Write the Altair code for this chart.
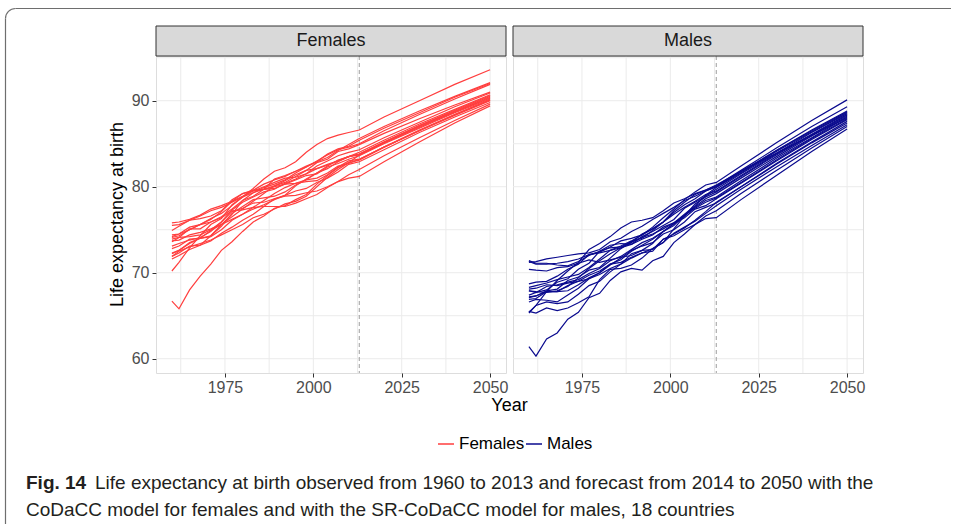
import altair as alt
import pandas as pd

# Life expectancy at birth, observed 1960-2013 and forecast 2014-2050
YEARS = [1960, 1962, 1965, 1968, 1971, 1974, 1977, 1980, 1983, 1986, 1989, 1992,
         1995, 1998, 2001, 2004, 2007, 2010, 2013, 2020, 2030, 2040, 2050]

FEMALES = {
    "Japan":       [70.2, 71.2, 72.9, 74.3, 75.6, 76.3, 77.9, 78.8, 79.8, 80.9, 81.8, 82.2, 82.9, 84.0, 84.9, 85.6, 86.0, 86.3, 86.6, 88.1, 90.0, 91.9, 93.6],
    "Spain":       [72.2, 72.6, 73.4, 74.0, 74.3, 75.6, 76.8, 78.4, 79.3, 79.9, 80.3, 80.8, 81.6, 82.3, 82.9, 83.4, 84.2, 84.9, 85.6, 87.0, 88.8, 90.5, 92.1],
    "France":      [73.6, 74.1, 75.1, 75.1, 75.9, 76.5, 77.4, 78.4, 78.9, 79.7, 80.9, 81.3, 81.8, 82.4, 82.9, 83.8, 84.4, 84.7, 85.4, 86.8, 88.6, 90.4, 92.0],
    "Switzerland": [74.1, 74.3, 75.0, 75.6, 76.2, 77.1, 78.3, 78.9, 79.6, 80.3, 80.8, 81.2, 81.8, 82.3, 83.0, 83.7, 84.3, 84.6, 85.0, 86.5, 88.4, 90.2, 91.9],
    "Italy":       [72.3, 72.6, 73.5, 74.0, 74.9, 75.6, 76.5, 77.4, 78.3, 79.2, 80.1, 80.5, 81.2, 81.9, 82.8, 83.2, 84.1, 84.4, 84.9, 86.2, 87.9, 89.5, 91.0],
    "Australia":   [73.9, 74.1, 74.2, 74.4, 75.0, 75.9, 77.3, 78.2, 78.8, 79.4, 79.7, 80.4, 80.9, 81.5, 82.4, 83.0, 83.6, 84.0, 84.3, 85.7, 87.5, 89.3, 90.9],
    "Finland":     [71.6, 72.0, 72.7, 73.2, 74.3, 75.4, 76.9, 77.7, 78.5, 78.7, 78.9, 79.4, 80.2, 80.8, 81.6, 82.4, 83.1, 83.5, 84.0, 85.4, 87.3, 89.0, 90.7],
    "Austria":     [71.9, 72.3, 73.1, 73.2, 73.7, 74.6, 75.3, 76.1, 76.8, 77.7, 78.6, 79.0, 80.1, 80.9, 81.6, 82.1, 82.9, 83.5, 83.8, 85.2, 87.1, 88.9, 90.6],
    "Canada":      [74.2, 74.5, 75.0, 75.6, 76.3, 76.9, 77.8, 78.8, 79.5, 80.0, 80.5, 81.0, 81.1, 81.5, 82.1, 82.6, 83.0, 83.5, 83.8, 85.2, 87.1, 88.8, 90.5],
    "Portugal":    [66.7, 65.8, 68.0, 69.6, 71.0, 72.6, 73.6, 74.8, 75.9, 76.6, 77.5, 77.8, 78.5, 79.1, 80.3, 81.3, 82.2, 82.8, 83.7, 85.1, 87.0, 88.7, 90.4],
    "Sweden":      [74.9, 75.4, 76.1, 76.6, 77.2, 77.6, 78.2, 78.8, 79.3, 79.7, 80.1, 80.7, 81.4, 81.9, 82.1, 82.5, 83.0, 83.5, 83.7, 85.1, 86.9, 88.7, 90.3],
    "Norway":      [75.8, 75.9, 76.2, 76.7, 77.4, 77.8, 78.3, 79.2, 79.5, 79.7, 79.8, 80.3, 80.8, 81.3, 81.5, 82.3, 82.7, 83.2, 83.6, 85.0, 86.8, 88.6, 90.2],
    "Netherlands": [75.5, 75.6, 76.1, 76.3, 76.6, 77.2, 78.5, 79.2, 79.6, 79.7, 80.0, 80.3, 80.4, 80.6, 80.7, 81.4, 82.3, 83.0, 83.2, 84.6, 86.5, 88.3, 90.0],
    "Belgium":     [72.8, 73.1, 73.9, 74.0, 74.2, 75.0, 76.1, 76.8, 77.6, 78.4, 79.2, 79.9, 80.4, 80.8, 81.0, 81.6, 82.4, 82.7, 83.2, 84.6, 86.6, 88.4, 90.1],
    "Ireland":     [71.9, 72.5, 73.0, 73.4, 73.8, 74.4, 75.0, 75.6, 76.4, 76.8, 77.4, 78.0, 78.3, 78.9, 80.0, 81.1, 82.0, 82.8, 83.1, 84.6, 86.5, 88.4, 90.1],
    "UK":          [73.7, 73.8, 74.4, 74.7, 75.1, 75.6, 76.2, 76.8, 77.4, 77.9, 78.5, 79.0, 79.5, 79.8, 80.5, 81.0, 81.7, 82.6, 82.9, 84.3, 86.3, 88.1, 89.8],
    "Denmark":     [74.4, 74.5, 75.3, 75.6, 75.9, 76.4, 77.2, 77.3, 77.6, 77.7, 77.7, 77.7, 78.1, 78.6, 79.1, 79.9, 80.6, 81.4, 82.0, 83.6, 85.7, 87.7, 89.6],
    "USA":         [73.1, 73.4, 73.8, 74.1, 74.8, 75.9, 77.1, 77.5, 78.1, 78.2, 78.6, 78.9, 79.0, 79.3, 79.5, 80.0, 80.6, 81.0, 81.2, 82.9, 85.2, 87.4, 89.4],
}

MALES = {
    "Netherlands": [71.4, 71.1, 71.1, 70.9, 70.8, 71.3, 72.0, 72.5, 72.9, 73.0, 73.6, 74.1, 74.5, 75.1, 75.8, 76.6, 78.0, 78.8, 79.4, 81.2, 83.7, 86.0, 88.3],
    "Norway":      [71.3, 71.0, 71.0, 71.1, 71.3, 71.6, 72.1, 72.3, 72.6, 72.9, 73.3, 74.2, 74.8, 75.5, 76.2, 77.5, 78.2, 78.9, 79.7, 81.5, 83.9, 86.3, 88.5],
    "Sweden":      [71.2, 71.3, 71.6, 71.8, 72.0, 72.2, 72.3, 72.7, 73.6, 74.0, 74.8, 75.4, 76.2, 76.9, 77.6, 78.4, 78.9, 79.5, 80.0, 81.7, 84.2, 86.5, 88.7],
    "Denmark":     [70.4, 70.3, 70.2, 70.6, 70.7, 71.1, 71.5, 71.2, 71.5, 71.8, 72.0, 72.6, 72.7, 73.9, 74.5, 75.2, 76.1, 77.1, 78.2, 80.0, 82.6, 85.1, 87.4],
    "Switzerland": [68.7, 68.9, 69.0, 69.6, 70.4, 71.0, 72.1, 72.4, 73.0, 73.7, 74.0, 74.4, 75.3, 76.4, 77.4, 78.5, 79.4, 80.2, 80.5, 82.4, 85.1, 87.7, 90.1],
    "Ireland":     [68.1, 68.2, 68.6, 68.5, 68.8, 69.0, 69.3, 69.8, 70.5, 71.0, 71.7, 72.3, 72.8, 73.5, 75.1, 76.6, 77.6, 78.4, 78.8, 80.7, 83.3, 85.7, 88.1],
    "Canada":      [68.3, 68.5, 68.8, 69.2, 69.5, 69.8, 70.6, 71.6, 72.6, 73.1, 73.7, 74.4, 75.1, 75.9, 76.8, 77.6, 78.3, 79.1, 79.5, 81.3, 83.8, 86.1, 88.4],
    "UK":          [67.9, 67.7, 68.4, 68.6, 68.9, 69.2, 69.9, 70.5, 71.4, 71.9, 72.7, 73.5, 74.0, 74.8, 75.7, 76.7, 77.7, 78.6, 79.2, 81.0, 83.5, 85.9, 88.2],
    "Australia":   [67.9, 67.8, 67.7, 67.9, 68.4, 69.4, 70.5, 71.4, 72.2, 72.9, 73.5, 74.5, 75.1, 75.9, 77.2, 78.2, 79.1, 79.6, 80.1, 81.9, 84.5, 87.0, 89.3],
    "Italy":       [67.2, 67.3, 67.9, 68.1, 69.1, 69.5, 70.3, 70.6, 71.7, 72.8, 73.6, 74.0, 74.9, 75.9, 77.0, 77.9, 78.6, 79.5, 80.0, 81.8, 84.2, 86.6, 88.8],
    "Spain":       [67.4, 67.7, 68.0, 68.9, 69.3, 70.4, 71.1, 72.5, 73.2, 73.4, 73.3, 73.9, 74.4, 75.3, 75.8, 76.8, 77.8, 79.0, 79.9, 81.6, 84.1, 86.4, 88.6],
    "Belgium":     [67.1, 67.3, 67.8, 67.8, 67.9, 68.6, 69.4, 70.0, 70.9, 71.7, 72.6, 73.1, 73.5, 74.5, 75.0, 75.9, 77.1, 77.6, 78.1, 80.0, 82.7, 85.2, 87.6],
    "France":      [66.9, 67.0, 67.8, 67.8, 68.5, 69.0, 69.7, 70.2, 71.0, 71.5, 72.5, 73.2, 73.9, 74.8, 75.5, 76.7, 77.5, 78.2, 78.7, 80.5, 83.1, 85.6, 87.9],
    "USA":         [66.6, 66.9, 66.8, 66.6, 67.4, 68.2, 69.3, 70.0, 71.0, 71.2, 71.8, 72.3, 72.5, 73.9, 74.3, 75.0, 75.6, 76.3, 76.4, 78.5, 81.3, 84.1, 86.7],
    "Austria":     [65.4, 66.2, 66.6, 66.4, 66.6, 67.5, 68.5, 69.0, 70.1, 71.0, 72.2, 72.6, 73.4, 74.8, 75.7, 76.4, 77.4, 77.8, 78.6, 80.4, 83.0, 85.5, 87.8],
    "Finland":     [65.5, 65.3, 65.9, 65.6, 65.9, 66.5, 67.2, 69.2, 70.4, 70.5, 70.9, 71.7, 72.8, 73.5, 74.6, 75.3, 76.0, 76.9, 77.8, 79.7, 82.3, 84.8, 87.2],
    "Japan":       [65.3, 66.2, 67.8, 69.1, 70.2, 71.2, 72.7, 73.4, 74.2, 75.2, 75.9, 76.1, 76.4, 77.2, 78.1, 78.6, 79.2, 79.6, 80.2, 81.8, 83.9, 86.0, 88.0],
    "Portugal":    [61.4, 60.3, 62.3, 63.0, 64.6, 65.4, 67.1, 67.6, 69.1, 70.1, 70.5, 70.3, 71.4, 71.9, 73.5, 74.5, 75.6, 76.6, 77.2, 79.2, 81.9, 84.5, 87.0],
}

SEXES = ["Females", "Males"]
SEX_COLORS = ["#FF3E3E", "#0A0A8E"]
FORECAST_START = [2013]

X_DOMAIN = [1955.5, 2054.5]
Y_DOMAIN = [58.34, 95.2]
X_TICKS = [1975, 2000, 2025, 2050]
Y_TICKS = [60, 70, 80, 90]
X_GRID = [1962.5, 1975, 1987.5, 2000, 2012.5, 2025, 2037.5, 2050]
Y_GRID = [60, 65, 70, 75, 80, 85, 90, 95]

CAPTION_BOLD = "Fig. 14"
CAPTION_LINE1 = ("Life expectancy at birth observed from 1960 to 2013 and forecast "
                 "from 2014 to 2050 with the")
CAPTION_LINE2 = ("CoDaCC model for females and with the SR-CoDaCC model for males, "
                 "18 countries")

FONT = "Liberation Sans"
W, H = 350, 317

rows = []
for sex, table in zip(SEXES, (FEMALES, MALES)):
    for country, values in table.items():
        for year, e0 in zip(YEARS, values):
            rows.append({"sex": sex, "country": country, "year": year, "e0": e0})
data = pd.DataFrame(rows)

x_scale = alt.Scale(domain=X_DOMAIN, nice=False, zero=False)
y_scale = alt.Scale(domain=Y_DOMAIN, nice=False, zero=False)

x_axis = alt.Axis(values=X_TICKS, grid=False, domain=False, tickColor="#333333",
                  tickSize=4, tickWidth=1, labelFontSize=16, labelColor="#4D4D4D",
                  labelPadding=2, labelFont=FONT, format="d", title=None)
y_axis = alt.Axis(values=Y_TICKS, grid=False, domain=False, tickColor="#333333",
                  tickSize=4, tickWidth=1, labelFontSize=16, labelColor="#4D4D4D",
                  labelPadding=3, labelFont=FONT, title=None)

one_row = pd.DataFrame({"k": [0]})


def text_at(txt, x, y, size, **kw):
    return alt.Chart(one_row).mark_text(
        text=txt, fontSize=size, font=FONT, **kw
    ).encode(x=alt.value(x), y=alt.value(y))


def panel(sex, left):
    yax = y_axis if left else None
    sub = data[data["sex"] == sex]

    vgrid = alt.Chart(pd.DataFrame({"year": X_GRID})).mark_rule(
        color="#EBEBEB", strokeWidth=1
    ).encode(x=alt.X("year:Q", scale=x_scale, axis=x_axis))
    hgrid = alt.Chart(pd.DataFrame({"e0": Y_GRID})).mark_rule(
        color="#EBEBEB", strokeWidth=1
    ).encode(y=alt.Y("e0:Q", scale=y_scale, axis=yax))
    cut = alt.Chart(pd.DataFrame({"year": FORECAST_START})).mark_rule(
        color="#A6A6A6", strokeWidth=1.1, strokeDash=[4, 3]
    ).encode(x=alt.X("year:Q", scale=x_scale, axis=x_axis))

    legend = alt.Legend(
        orient="none", legendX=281, legendY=379, direction="horizontal",
        title=None, symbolType="stroke", symbolSize=256, symbolStrokeWidth=1.5,
        labelFontSize=17, labelFont=FONT, labelColor="#000000",
        labelOffset=4, columnPadding=-6,
    ) if left else None
    lines = alt.Chart(sub).mark_line(strokeWidth=1.2).encode(
        x=alt.X("year:Q", scale=x_scale, axis=x_axis),
        y=alt.Y("e0:Q", scale=y_scale, axis=yax),
        detail="country:N",
        color=alt.Color("sex:N", scale=alt.Scale(domain=SEXES, range=SEX_COLORS),
                        legend=legend),
    )

    strip = alt.Chart(one_row).mark_rect(
        fill="#D9D9D9", stroke="#333333", strokeWidth=1
    ).encode(x=alt.value(0), x2=alt.value(W), y=alt.value(-30), y2=alt.value(0))
    strip_label = text_at(sex, W / 2, -15, 18, color="#1A1A1A", baseline="middle",
                          align="center")

    layers = [vgrid, hgrid, cut, lines, strip, strip_label]

    if left:
        frame_color = "#6E6E6E"
        anchor = alt.Chart(one_row).mark_rect(opacity=0).encode(
            x=alt.value(-155), x2=alt.value(795), y=alt.value(-55), y2=alt.value(468)
        )
        top_edge = alt.Chart(one_row).mark_rule(color=frame_color, strokeWidth=1.2).encode(
            x=alt.value(-140.5), x2=alt.value(795), y=alt.value(-47.5)
        )
        left_edge = alt.Chart(one_row).mark_rule(color=frame_color, strokeWidth=1.2).encode(
            x=alt.value(-150.5), y=alt.value(-37.5), y2=alt.value(468)
        )
        corner = alt.Chart(one_row).mark_arc(
            radius=10.6, radius2=9.4, theta=4.7124, theta2=6.2832, color=frame_color
        ).encode(x=alt.value(-140.5), y=alt.value(-37.5))
        y_title = text_at("Life expectancy at birth", -38, H / 2, 18, angle=270,
                          color="#000000", baseline="middle", align="center")
        x_title = text_at("Year", (2 * W + 7) / 2, 350, 18, color="#000000",
                          baseline="middle", align="center")
        cap_bold = text_at(CAPTION_BOLD, -130, 427, 19, fontWeight="bold",
                           color="#231F20", baseline="middle", align="left")
        cap1 = text_at(CAPTION_LINE1, -61, 427, 19, color="#231F20",
                       baseline="middle", align="left")
        cap2 = text_at(CAPTION_LINE2, -130, 454, 19, color="#231F20",
                       baseline="middle", align="left")
        layers = [anchor, top_edge, left_edge, corner] + layers + [
            y_title, x_title, cap_bold, cap1, cap2]

    return alt.layer(*layers).properties(width=W, height=H)


chart = alt.hconcat(
    panel("Females", True), panel("Males", False), spacing=7, bounds="flush"
).resolve_scale(color="independent").properties(
    padding=0, background="white"
).configure_view(
    stroke="#333333", strokeWidth=1
).configure(font=FONT)

chart.save("out.html", embed_options={"renderer": "svg", "actions": False})
